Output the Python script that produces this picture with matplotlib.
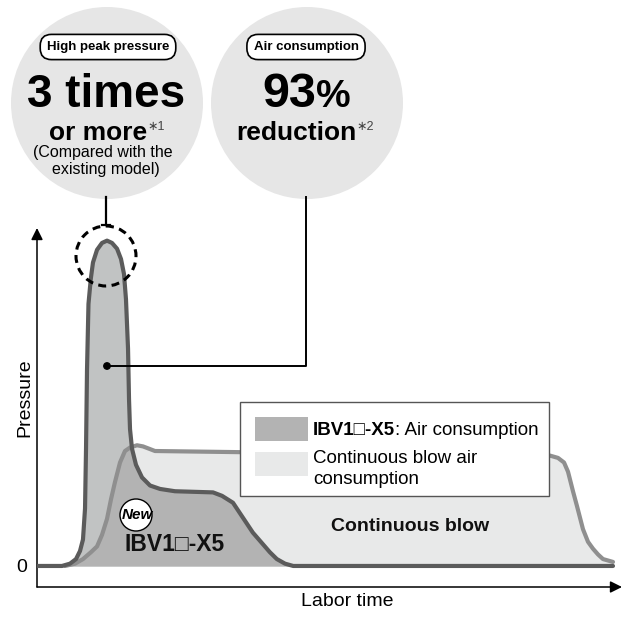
import numpy as np
import matplotlib.pyplot as plt
from matplotlib.patches import Circle, Rectangle

plt.rcParams['font.family'] = ['Liberation Sans', 'DejaVu Sans']

# pressure profile of IBV1-X5 (time: % of labor time, pressure: x continuous blow level)
ibv_t = [0, 4.27, 5.64, 6.67, 7.35, 7.86, 8.21, 8.38, 8.55, 8.8, 9.2, 9.57, 10.26,
         11.11, 11.97, 12.82, 13.68, 14.36, 14.87, 15.21, 15.56, 15.73, 15.90, 16.24,
         16.92, 17.95, 19.32, 21.03, 23.59, 30.09, 31.63, 33.5, 36.9, 39.8, 41.0,
         42.4, 43.8, 98.46]
ibv_p = [0, 0, 0.02, 0.06, 0.13, 0.23, 0.50, 1.02, 1.71, 2.28, 2.50, 2.64, 2.75,
         2.81, 2.83, 2.81, 2.76, 2.67, 2.54, 2.32, 1.89, 1.45, 1.19, 1.02,
         0.88, 0.77, 0.70, 0.67, 0.65, 0.64, 0.61, 0.55, 0.29, 0.12, 0.06,
         0.02, 0, 0]

# continuous blow
blow_t = [4.79, 6.50, 7.86, 9.23, 10.26, 11.11, 11.97, 12.65, 13.33, 14.19, 15.04,
          15.90, 17.09, 18.12, 19.15, 20.17, 34.7, 60.0, 87.69, 89.06, 90.09, 90.77,
          91.62, 92.31, 93.33, 94.19, 95.04, 95.90, 96.75, 98.46]
blow_p = [0, 0.02, 0.06, 0.12, 0.17, 0.27, 0.41, 0.58, 0.73, 0.90, 1.00,
          1.03, 1.05, 1.04, 1.02, 1.00, 0.99, 0.98, 0.96, 0.94, 0.90, 0.82,
          0.65, 0.52, 0.32, 0.21, 0.15, 0.10, 0.06, 0.035]

fig = plt.figure(figsize=(6.26, 6.18), dpi=100)
ax = fig.add_axes([37/626, 31/618, 585/626, 359/618])
ax.set_xlim(0, 100)
ax.set_ylim(-0.183, 2.94)

tt = np.linspace(blow_t[0], blow_t[-1], 3000)
ib = np.interp(tt, ibv_t, ibv_p)
bl = np.interp(tt, blow_t, blow_p)
ax.fill_between(blow_t, 0, blow_p, color='#e8e9e9', lw=0, zorder=1)
ax.fill_between(ibv_t, 0, ibv_p, color='#c1c3c3', lw=0, zorder=2)
ax.fill_between(tt, 0, np.minimum(ib, bl), color='#b3b3b3', lw=0, zorder=3)
ax.plot(blow_t, blow_p, color='#8f8f8f', lw=3, solid_capstyle='round',
        solid_joinstyle='round', zorder=4)
ax.plot(ibv_t, ibv_p, color='#5b5b5b', lw=3, solid_capstyle='round',
        solid_joinstyle='round', zorder=5)

for s in ax.spines.values():
    s.set_visible(False)
arr = dict(arrowstyle='-|>,head_length=0.5,head_width=0.25', color='k', lw=1.1,
           mutation_scale=14, shrinkA=0, shrinkB=0)
ax.annotate('', xy=(1, 0), xytext=(0, 0), xycoords='axes fraction', arrowprops=arr)
ax.annotate('', xy=(0, 1), xytext=(0, 0), xycoords='axes fraction', arrowprops=arr)
ax.set_xticks([])
ax.set_yticks([0])
ax.tick_params(length=0, labelsize=14, pad=7)
ax.set_ylabel('Pressure', fontsize=14)
ax.yaxis.set_label_coords(-0.006, 0.526)
ax.set_xlabel('Labor time', fontsize=14)
ax.xaxis.set_label_coords(0.53, -0.017)

ax.text(23.5, 0.19, 'IBV1\u25a1-X5', fontsize=16.5, fontweight='bold',
        ha='center', va='center', color='#111', zorder=6)
ax.text(63.8, 0.34, 'Continuous blow', fontsize=14, fontweight='bold',
        ha='center', va='center', color='#111', zorder=6)

# overlay in pixel units for callouts and legend
ov = fig.add_axes([0, 0, 1, 1])
ov.set_xlim(0, 626)
ov.set_ylim(618, 0)
ov.axis('off')
rend = fig.canvas.get_renderer()


def after(t, s, dy=0, **kw):
    bb = t.get_window_extent(renderer=rend)
    x = ov.transData.inverted().transform((bb.x1, bb.y0))[0]
    return ov.text(x, t.get_position()[1] + dy, s, va='baseline', **kw)


for cx in (107, 307):
    ov.add_patch(Circle((cx, 103), 96, color='#e6e6e6', lw=0))

pill = dict(boxstyle='round,pad=0.5,rounding_size=0.85', fc='white', ec='k', lw=1.2)
for cx, s in ((108, 'High peak pressure'), (306, 'Air consumption')):
    ov.text(cx, 47, s, fontsize=9.5, fontweight='bold', ha='center', va='center',
            bbox=pill)

ov.text(106, 107, '3 times', fontsize=33, fontweight='bold', ha='center', va='baseline')
t = ov.text(98, 140, 'or more', fontsize=19, fontweight='bold', ha='center', va='baseline')
after(t, '\u22171', dy=-10, fontsize=9, color='#444')
ov.text(103, 157, '(Compared with the', fontsize=11.5, ha='center', va='baseline')
ov.text(106, 174, 'existing model)', fontsize=11.5, ha='center', va='baseline')
t = ov.text(316, 107, '93', fontsize=35, fontweight='bold', ha='right', va='baseline')
after(t, '%', fontsize=28, fontweight='bold')
t = ov.text(296, 140, 'reduction', fontsize=19, fontweight='bold', ha='center', va='baseline')
after(t, '\u22172', dy=-10, fontsize=9, color='#444')

# connectors
ov.plot([106, 106], [197, 225], color='k', lw=1.6)
ov.plot([102, 110], [225, 225], color='k', lw=1.6)
ov.add_patch(Circle((106, 256), 30, fill=False, ec='k', lw=2.2, ls=(0, (2.6, 1.8))))
ov.plot([306, 306, 107], [197, 366, 366], color='k', lw=1.4)
ov.add_patch(Circle((107, 366), 3.2, color='k'))

# New badge
ov.add_patch(Circle((136, 515), 16, fc='white', ec='k', lw=1))
ov.text(137, 515, 'New', fontsize=11, fontweight='bold', style='italic',
        ha='center', va='center')

# legend
ov.add_patch(Rectangle((240, 402), 309, 94, fc='white', ec='#555', lw=1))
ov.add_patch(Rectangle((255, 417), 53, 24, color='#b3b3b3', lw=0))
ov.add_patch(Rectangle((255, 452), 53, 24, color='#e8e9e9', lw=0))
t = ov.text(313, 435, 'IBV1\u25a1-X5', fontsize=13.5, fontweight='bold', va='baseline')
after(t, ': Air consumption', fontsize=13.5)
ov.text(313, 463, 'Continuous blow air', fontsize=13.5, va='baseline')
ov.text(313, 484, 'consumption', fontsize=13.5, va='baseline')

fig.savefig('out.png', dpi=100)
